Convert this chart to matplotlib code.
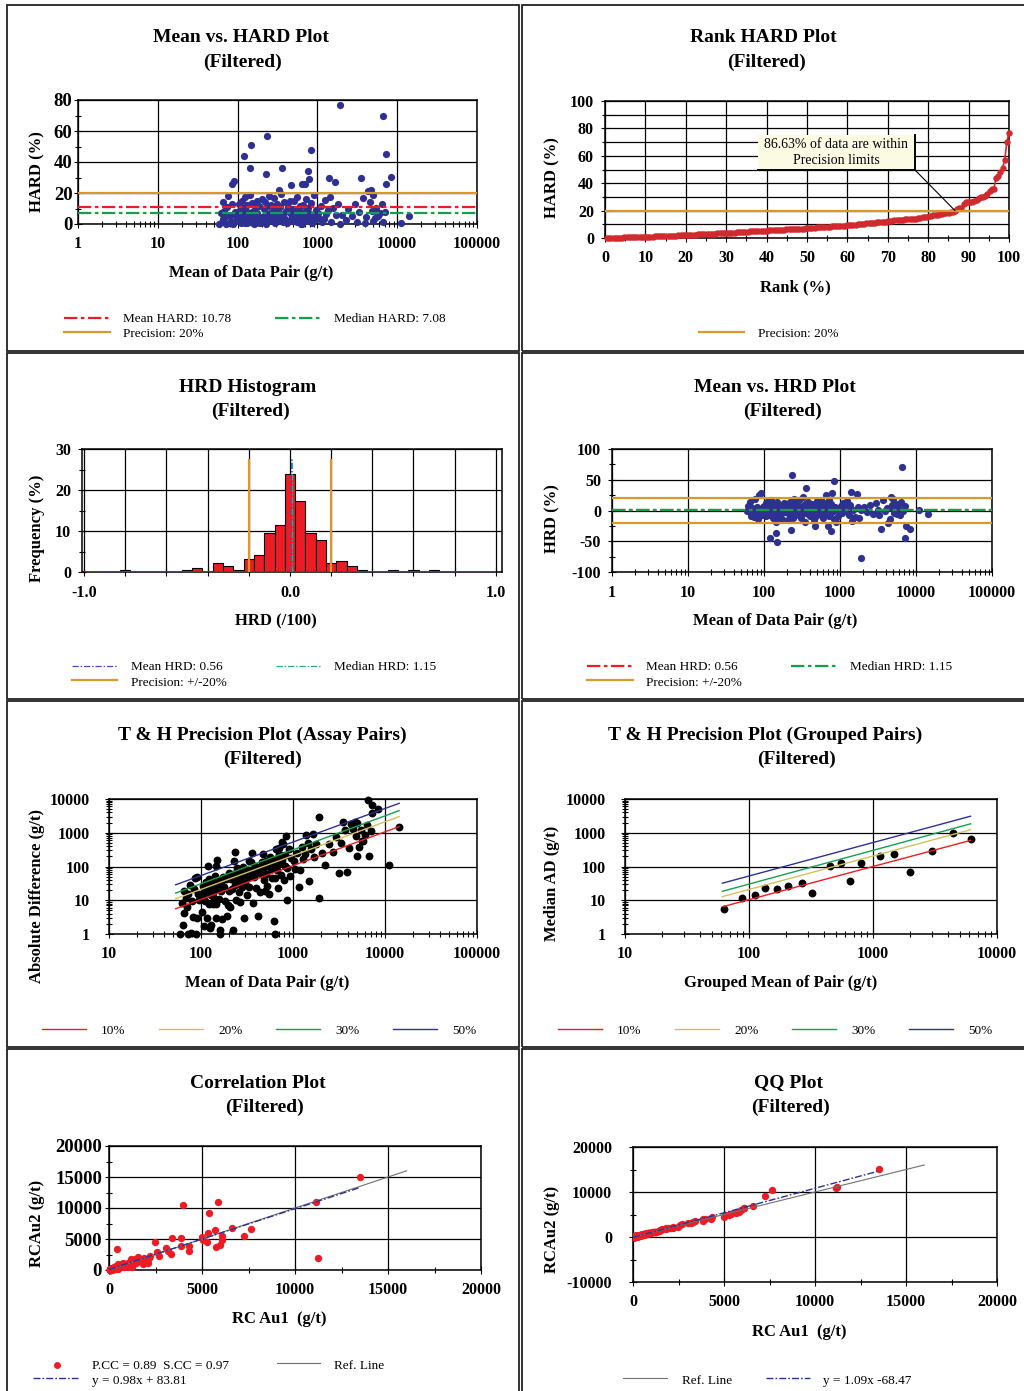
import numpy as np
import matplotlib.pyplot as plt
from matplotlib.patches import Rectangle
from matplotlib.lines import Line2D
from matplotlib.ticker import LogLocator, MultipleLocator, NullFormatter

plt.rcParams['font.family'] = ['Liberation Serif', 'DejaVu Serif']
plt.rcParams['font.weight'] = 'bold'
plt.rcParams['axes.unicode_minus'] = False

W, H = 1024, 1391

# ---------------- data ----------------
# duplicate pairs: mean of pair (g/t) and half relative difference HRD (%)
pair_mean = [
    59, 62, 63, 65, 66, 68, 70, 72, 73, 76, 78, 80, 82, 84, 88, 90, 93, 96,
    101, 103, 105, 107, 109, 110, 112, 114, 116, 118, 121, 123, 125, 127, 129, 130,
    132, 134, 136, 138, 140, 142, 144, 147, 150, 153, 156, 159, 160, 163, 166, 170,
    173, 177, 181, 185, 190, 195,
    200, 204, 208, 212, 216, 220, 224, 232, 238, 242, 247, 252, 258, 263, 268, 274,
    280, 286, 292, 298, 304, 310, 318, 325, 334, 342, 350, 366, 375, 385, 395, 405,
    415, 426, 437, 448, 458, 480, 490, 496,
    505, 515, 526, 538, 550, 562, 575, 588, 600, 615, 630, 636, 645, 660, 675, 690,
    710, 725, 740, 755, 790, 810, 825, 850, 870, 895, 920, 955,
    1020, 1060, 1100, 1150, 1200, 1250, 1300, 1350, 1450, 1500, 1580, 1700, 1800, 1900,
    2050, 2250, 2450, 2700, 2950, 3150, 3300, 3700, 3900, 4100, 4500, 4850, 4950,
    5200, 5500, 5800, 6100, 6400, 6700, 7100, 5000, 5600,
    11100, 14250,
    1900, 6600, 235, 148, 840, 7200, 120, 145, 360, 760, 228, 8400, 1400, 3500,
    780, 90, 86, 650, 700, 470, 1650, 7300, 4700, 4300, 330,
]
pair_hrd = [
    0, 6.8, -1.5, 14.0, 3.1, -8.5, 4.6, 0, -10.8, 18.2, -0.7, 6.1, -2.0, -13.1, 0, 1.6, -8.0, 5.2,
    6.6, -2.2, 12.8, -9.0, 0.8, -4.3, 15.1, -7.0, 1.3, 10.4, -3.1, 17.3, -0.6, 8.2, -5.5, 0.7,
    -12.5, 2.9, 6.3, -6.8, 4.1, -19.0, 1.0, -2.7, 13.7, -7.9, 3.6, 0.4, 0, -10.7, 5.8, 0.8,
    -14.6, 7.1, -2.7, 11.5, 0.9, -1.9,
    4.8, -16.0, 1.5, 9.9, -5.0, 14.0, -0.3, 6.3, -11.8, 2.1, 18.0, -7.3, 3.4, 12.0, -1.7, 8.7,
    -4.4, 16.8, 0.5, -9.4, 5.4, -13.0, 2.3, 7.7, -3.8, 10.9, -19.5, 1.1, -6.4, 13.9, 3.0, -8.4,
    0.4, 11.0, -2.0, 6.9, -15.0, 4.2, -9.6, 1.9,
    14.9, -5.7, 2.6, 9.3, -1.4, 17.5, -7.5, 4.0, -11.4, 0.2, 8.0, 0, -3.5, 12.3, -6.0, 1.7,
    16.4, -8.6, 3.7, 10.2, -2.6, 6.2, -13.6, 0.6, 5.1, -18.4, 2.8, -9.2,
    7.2, -4.0, 11.7, -1.1, 3.3, 15.6, -6.6, 8.9, -17.1, 1.2, -10.1, 5.6, -12.9, 0.3,
    6.0, -2.4, 9.6, -4.9, 12.6, 1.0, -7.7, 16.6, -0.9, 4.4, -14.2, 8.4, 2.0,
    -3.7, 10.6, 4.9, -6.8, 13.1, -1.5, 7.9, 18.9, -5.2,
    0.5, -5.3,
    -77, 70, 57, -51, 48, -45, -44, -36, 36, -34, -32, -30.5, 30, -30,
    29, 28, 26, 26, -26, -25, 27, -26, 22, -21, 22,
]

mean_hard, median_hard, precision = 10.78, 7.08, 20
mean_hrd, median_hrd = 0.56, 1.15
within_pct = 86.63

hist_centers = [-0.80, -0.50, -0.45, -0.35, -0.30, -0.25, -0.20, -0.15, -0.10, -0.05, 0.00,
                0.05, 0.10, 0.15, 0.20, 0.25, 0.30, 0.35, 0.50, 0.60, 0.70]
hist_freq = [0.55, 0.55, 1.05, 2.1, 1.55, 0.55, 3.1, 4.1, 9.4, 11.4, 23.8,
             17.4, 9.4, 7.9, 2.1, 2.6, 1.55, 0.55, 0.55, 0.55, 0.55]
hist_width = 0.05
hist_range = [-1.0, 1.0]
hist_line_top = 27.5
hist_ticks = [-1.0, -0.8, -0.6, -0.4, -0.2, 0.0, 0.2, 0.4, 0.6, 0.8, 1.0]
hist_tick_labels = ['-1.0', '', '', '', '', '0.0', '', '', '', '', '1.0']

grp_mean = [63, 87, 112, 134, 168, 208, 267, 325, 452, 555, 648, 800, 1132, 1487, 1977, 2978, 4385, 6190]
grp_ad = [5.4, 11.5, 14.3, 23, 22, 27, 33, 16.4, 105, 128, 38, 125, 206, 236, 71, 289, 955, 637]

th_labels = ['10%', '20%', '30%', '50%']
th_assay_x = [53, 14250]
th_assay_lo = [5.6, 11.1, 16.3, 28.7]
th_assay_hi = [1520, 3006, 4520, 7450]
th_group_x = [61, 6120]
th_group_lo = [6.4, 12.8, 18.4, 32]
th_group_hi = [593, 1230, 1840, 3090]

pcc, scc = 0.89, 0.97
corr_slope, corr_icpt = 0.98, 83.81
qq_slope, qq_icpt = 1.09, -68.47
ref_line = [0, 16000]

decades = [1, 10, 100, 1000, 10000, 100000]

# derived
mean = np.array(pair_mean, float)
hrd = np.array(pair_hrd, float)
hard = np.abs(hrd)
ad = 2 * mean * hard / 100
au1 = mean * (1 + hrd / 100)
au2 = mean * (1 - hrd / 100)
rank_hard = np.sort(hard)
rank_pct = np.arange(1, len(hard) + 1) / len(hard) * 100

BLUE = '#2E3192'
RED = '#ED1C24'
GREEN = '#12A04C'
ORANGE = '#D9982C'
RANKRED = '#D12A2E'
TH_COLORS = ['#ED1C24', '#CFC35A', '#13A050', '#2E3192']
DASHDOT = (0, (6, 1.6, 1.6, 1.6))
THIN_DD = (0, (5, 1.5, 1.2, 1.5))

fig = plt.figure(figsize=(W / 100, H / 100), dpi=100)


def axes_px(x0, y0, x1, y1, ypad=5, ysize=11.5):
    ax = fig.add_axes([x0 / W, 1 - y1 / H, (x1 - x0) / W, (y1 - y0) / H])
    ax.grid(True, which='major', color='black', lw=0.9)
    ax.set_axisbelow(True)
    for s in ax.spines.values():
        s.set_linewidth(1.1)
    ax.tick_params(which='both', direction='inout', width=0.8)
    ax.tick_params(which='major', length=6)
    ax.tick_params(which='minor', length=4)
    ax.tick_params(axis='x', pad=6, labelsize=11.5)
    ax.tick_params(axis='y', pad=ypad, labelsize=ysize)
    return ax


def log_axis(axis, lo, hi):
    ticks = [d for d in decades if lo <= d <= hi]
    axis.set_ticks(ticks, [str(t) for t in ticks])
    axis.set_minor_locator(LogLocator(base=10, subs=np.arange(2, 10), numticks=100))
    axis.set_minor_formatter(NullFormatter())


def ftext(x, y, s, size=9.5, weight='normal', ha='left', va='center', rot=0):
    fig.text(x / W, 1 - y / H, s, fontsize=size, fontweight=weight, ha=ha, va=va, rotation=rot)


def fline(x0, x1, y, **kw):
    fig.add_artist(Line2D([x0 / W, x1 / W], [1 - y / H, 1 - y / H], transform=fig.transFigure, **kw))


def title(cx1, cx2, y, s):
    ftext(cx1, y, s, size=14, weight='bold', ha='center')
    ftext(cx2, y + 24, '(Filtered)', size=14, weight='bold', ha='center')


# panel frames
for x0, x1 in [(7, 519), (522, 1030)]:
    for y0, y1 in [(5, 351), (353, 699), (701, 1047), (1049, 1396)]:
        fig.add_artist(Rectangle((x0 / W, 1 - y1 / H), (x1 - x0) / W, (y1 - y0) / H,
                                 transform=fig.transFigure, fill=False, ec='#222222', lw=1.3))

# ---------- 1: Mean vs HARD ----------
ax = axes_px(78, 100, 477, 224, ypad=1, ysize=13.5)
ax.scatter(mean, hard, s=27, color=BLUE, zorder=3, clip_on=False, lw=0)
ax.axhline(precision, color=ORANGE, lw=1.6, zorder=4)
ax.axhline(mean_hard, color=RED, lw=1.6, ls=DASHDOT, zorder=4)
ax.axhline(median_hard, color=GREEN, lw=1.6, ls=DASHDOT, zorder=4)
ax.set_xscale('log')
ax.set_xlim(1, 100000)
log_axis(ax.xaxis, 1, 100000)
ax.set_ylim(0, 80)
ax.set_yticks([0, 20, 40, 60, 80])
ax.yaxis.set_minor_locator(MultipleLocator(10))
title(241, 242, 38, 'Mean vs. HARD Plot')
ftext(37, 172, 'HARD (%)', size=12, weight='bold', ha='center', rot=90)
ftext(251, 273, 'Mean of Data Pair (g/t)', size=12, weight='bold', ha='center')
fline(64, 110, 318, color=RED, lw=1.6, ls=DASHDOT)
ftext(123, 319, f'Mean HARD: {mean_hard}')
fline(275, 321, 318, color=GREEN, lw=1.6, ls=DASHDOT)
ftext(334, 319, f'Median HARD: {median_hard}')
fline(64, 110, 332, color=ORANGE, lw=1.6)
ftext(123, 334, f'Precision: {precision}%')

# ---------- 2: Rank HARD ----------
ax = axes_px(605, 101, 1009, 238, ypad=5)
ax.plot(rank_pct, rank_hard, color=RANKRED, lw=1.2, marker='o', ms=4.6, mew=0, zorder=3, clip_on=False)
ax.axhline(precision, color=ORANGE, lw=1.6, zorder=4)
ax.set_xlim(0, 100)
ax.set_ylim(0, 100)
ax.set_xticks(np.arange(0, 101, 10))
ax.xaxis.set_minor_locator(MultipleLocator(5))
ax.set_yticks(np.arange(0, 101, 20))
ax.yaxis.set_minor_locator(MultipleLocator(10))
ax.yaxis.grid(True, which='minor', color='black', lw=0.9)
ax.annotate('', xy=(within_pct, precision), xycoords='data',
            xytext=(915 / W, 1 - 170 / H), textcoords='figure fraction',
            arrowprops=dict(arrowstyle='-', color='black', lw=0.8, shrinkA=0, shrinkB=0), zorder=5)
fig.add_artist(Rectangle((758 / W, 1 - 170 / H), (915 - 758) / W, 35 / H, transform=fig.transFigure,
                         fc='#FBFBE4', ec='none', zorder=2))
fig.add_artist(Line2D([915 / W, 915 / W], [1 - 135 / H, 1 - 170 / H], transform=fig.transFigure,
                      color='black', lw=1.4, zorder=3))
fline(758, 915, 170, color='black', lw=1.4, zorder=3)
ftext(836, 145, f'{within_pct}% of data are within', size=10, ha='center')
ftext(836, 160, 'Precision limits', size=10, ha='center')
title(763, 767, 38, 'Rank HARD Plot')
ftext(552, 178, 'HARD (%)', size=12, weight='bold', ha='center', rot=90)
ftext(795, 287, 'Rank (%)', size=12, weight='bold', ha='center')
fline(699, 744, 332, color=ORANGE, lw=1.6)
ftext(758, 334, f'Precision: {precision}%')

# ---------- 3: HRD Histogram ----------
ax = axes_px(82, 449, 502, 572, ypad=5)
ax.bar(hist_centers, hist_freq, width=hist_width, color=RED, edgecolor='black', lw=0.8, zorder=3)
ax.hlines(0, hist_range[0], hist_range[1], color='#B02025', lw=1.3, zorder=3)
ax.vlines([-precision / 100, precision / 100], 0, hist_line_top, color=ORANGE, lw=1.6, zorder=4)
ax.vlines(mean_hrd / 100, 0, hist_line_top, color='#4A4AC8', lw=0.9, ls=THIN_DD, zorder=4)
ax.vlines(median_hrd / 100, 0, hist_line_top, color='#27B07E', lw=0.9, ls=THIN_DD, zorder=4)
ax.set_xlim(-1.01, 1.03)
ax.set_ylim(0, 30)
ax.set_xticks(hist_ticks, hist_tick_labels)
ax.set_yticks([0, 10, 20, 30])
ax.yaxis.set_minor_locator(MultipleLocator(5))
title(248, 251, 387, 'HRD Histogram')
ftext(37, 528, 'Frequency (%)', size=12, weight='bold', ha='center', rot=90)
ftext(276, 621, 'HRD (/100)', size=12, weight='bold', ha='center')
fline(72, 117, 666, color='#4A4AC8', lw=0.9, ls=THIN_DD)
ftext(131, 667, f'Mean HRD: {mean_hrd}')
fline(276, 320, 666, color='#27B07E', lw=0.9, ls=THIN_DD)
ftext(334, 667, f'Median HRD: {median_hrd}')
fline(72, 117, 680, color=ORANGE, lw=1.6)
ftext(131, 683, f'Precision: +/-{precision}%')

# ---------- 4: Mean vs HRD ----------
ax = axes_px(612, 449, 992, 572, ypad=5)
ax.scatter(mean, hrd, s=27, color=BLUE, zorder=3, lw=0)
ax.axhline(precision, color=ORANGE, lw=1.6, zorder=4)
ax.axhline(-precision, color=ORANGE, lw=1.6, zorder=4)
ax.axhline(mean_hrd, color=RED, lw=1.6, ls=DASHDOT, zorder=4)
ax.axhline(median_hrd, color=GREEN, lw=1.6, ls=DASHDOT, zorder=4)
ax.set_xscale('log')
ax.set_xlim(1, 100000)
log_axis(ax.xaxis, 1, 100000)
ax.set_ylim(-100, 100)
ax.set_yticks([-100, -50, 0, 50, 100])
ax.yaxis.set_minor_locator(MultipleLocator(25))
title(775, 783, 387, 'Mean vs. HRD Plot')
ftext(552, 519, 'HRD (%)', size=12, weight='bold', ha='center', rot=90)
ftext(775, 621, 'Mean of Data Pair (g/t)', size=12, weight='bold', ha='center')
fline(587, 633, 666, color=RED, lw=1.6, ls=DASHDOT)
ftext(646, 667, f'Mean HRD: {mean_hrd}')
fline(791, 837, 666, color=GREEN, lw=1.6, ls=DASHDOT)
ftext(850, 667, f'Median HRD: {median_hrd}')
fline(587, 633, 680, color=ORANGE, lw=1.6)
ftext(646, 683, f'Precision: +/-{precision}%')

# ---------- 5: T&H assay pairs ----------
ax = axes_px(109, 799, 477, 934, ypad=11)
ax.scatter(mean, np.maximum(ad, 1), s=32, color='black', zorder=3, lw=0, clip_on=False)
for lo, hi, c in zip(th_assay_lo, th_assay_hi, TH_COLORS):
    ax.plot(th_assay_x, [lo, hi], color=c, lw=1.0, zorder=4)
ax.set_xscale('log')
ax.set_yscale('log')
ax.set_xlim(10, 100000)
ax.set_ylim(1, 10000)
log_axis(ax.xaxis, 10, 100000)
log_axis(ax.yaxis, 1, 10000)
title(262, 262, 735, 'T & H Precision Plot (Assay Pairs)')
ftext(37, 896, 'Absolute Difference (g/t)', size=12, weight='bold', ha='center', rot=90)
ftext(267, 983, 'Mean of Data Pair (g/t)', size=12, weight='bold', ha='center')
for i, (lab, c) in enumerate(zip(th_labels, TH_COLORS)):
    fline(42 + 117 * i, 86 + 117 * i, 1029, color=c, lw=1.0)
    ftext(101 + 117 * i, 1031, lab)

# ---------- 6: T&H grouped pairs ----------
ax = axes_px(625, 799, 997, 934, ypad=11)
ax.scatter(grp_mean, grp_ad, s=32, color='black', zorder=3, lw=0)
for lo, hi, c in zip(th_group_lo, th_group_hi, TH_COLORS):
    ax.plot(th_group_x, [lo, hi], color=c, lw=1.0, zorder=4)
ax.set_xscale('log')
ax.set_yscale('log')
ax.set_xlim(10, 10000)
ax.set_ylim(1, 10000)
log_axis(ax.xaxis, 10, 10000)
log_axis(ax.yaxis, 1, 10000)
title(765, 796, 735, 'T & H Precision Plot (Grouped Pairs)')
ftext(552, 883, 'Median AD (g/t)', size=12, weight='bold', ha='center', rot=90)
ftext(781, 983, 'Grouped Mean of Pair (g/t)', size=12, weight='bold', ha='center')
for i, (lab, c) in enumerate(zip(th_labels, TH_COLORS)):
    fline(558 + 117 * i, 602 + 117 * i, 1029, color=c, lw=1.0)
    ftext(617 + 117 * i, 1031, lab)

# ---------- 7: Correlation ----------
ax = axes_px(109, 1146, 481, 1270, ypad=2, ysize=13.5)
ax.scatter(au1, au2, s=28, color=RED, zorder=3, lw=0, clip_on=False)
ax.plot(ref_line, ref_line, color='#707070', lw=0.8, zorder=4)
fx = np.array([0, au1.max()])
ax.plot(fx, corr_slope * fx + corr_icpt, color=BLUE, lw=1.0, ls=THIN_DD, zorder=5)
ax.set_xlim(0, 20000)
ax.set_ylim(0, 20000)
ax.set_xticks(np.arange(0, 20001, 5000))
ax.set_yticks(np.arange(0, 20001, 5000))
ax.xaxis.set_minor_locator(MultipleLocator(2500))
ax.yaxis.set_minor_locator(MultipleLocator(2500))
title(258, 264, 1083, 'Correlation Plot')
ftext(37, 1223, 'RCAu2 (g/t)', size=12, weight='bold', ha='center', rot=90)
ftext(279, 1319, 'RC Au1  (g/t)', size=12, weight='bold', ha='center')
fig.add_artist(Line2D([57 / W], [1 - 1365 / H], transform=fig.transFigure, marker='o', ms=5,
                      color=RED, mew=0, ls='none'))
ftext(92, 1366, f'P.CC = {pcc}  S.CC = {scc}')
fline(277, 320, 1363, color='#707070', lw=0.8)
ftext(334, 1366, 'Ref. Line')
fline(33, 78, 1378, color=BLUE, lw=1.0, ls=THIN_DD)
ftext(92, 1381, f'y = {corr_slope}x + {corr_icpt}')

# ---------- 8: QQ ----------
ax = axes_px(633, 1147, 997, 1282, ypad=12)
ax.scatter(np.sort(au1), np.sort(au2), s=28, color=RED, zorder=3, lw=0)
ax.plot(ref_line, ref_line, color='#707070', lw=0.8, zorder=4)
qx = np.array([0, au1.max()])
ax.plot(qx, qq_slope * qx + qq_icpt, color=BLUE, lw=1.0, ls=THIN_DD, zorder=5)
ax.set_xlim(0, 20000)
ax.set_ylim(-10000, 20000)
ax.set_xticks(np.arange(0, 20001, 5000))
ax.set_yticks(np.arange(-10000, 20001, 10000))
ax.xaxis.set_minor_locator(MultipleLocator(2500))
ax.yaxis.set_minor_locator(MultipleLocator(5000))
title(788, 791, 1083, 'QQ Plot')
ftext(552, 1229, 'RCAu2 (g/t)', size=12, weight='bold', ha='center', rot=90)
ftext(799, 1332, 'RC Au1  (g/t)', size=12, weight='bold', ha='center')
fline(623, 667, 1378, color='#707070', lw=0.8)
ftext(682, 1381, 'Ref. Line')
fline(766, 810, 1378, color=BLUE, lw=1.0, ls=THIN_DD)
ftext(823, 1381, f'y = {qq_slope}x {qq_icpt}')

fig.savefig('out.png', dpi=100)
